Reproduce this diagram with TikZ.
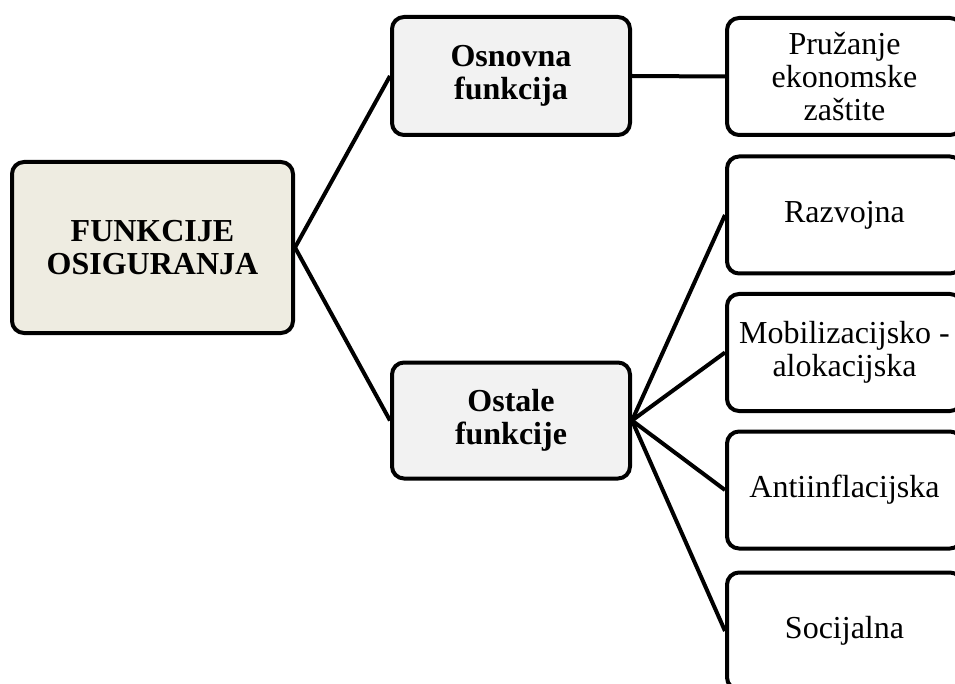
\documentclass[tikz,border=0pt]{standalone}
\usepackage{fontspec}
\setmainfont{Liberation Serif}
\begin{document}
\begin{tikzpicture}[x=1pt,y=-1pt,
  box/.style={draw=black, line width=4pt, rounded corners=12pt, align=center,
    inner sep=0pt, font=\fontsize{32}{33}\selectfont},
  rootbox/.style={box, fill=rootfill, font=\fontsize{32}{33}\selectfont\bfseries,
    minimum width=281pt, minimum height=171pt},
  midbox/.style={box, fill=midfill, font=\fontsize{32}{33}\selectfont\bfseries,
    minimum width=238pt, minimum height=118pt},
  leafbox/.style={box, fill=white, minimum width=235pt, minimum height=117pt},
  conn/.style={line width=4pt}]
\definecolor{rootfill}{HTML}{EEECE1}
\definecolor{midfill}{HTML}{F2F2F2}
\useasboundingbox (0,0) rectangle (955,684);
\fill[white] (0,0) rectangle (955,684);
\node[rootbox] (root) at (152.5,247.5) {FUNKCIJE\\OSIGURANJA};
\node[midbox] (osn) at (511,76) {Osnovna\\funkcija};
\node[midbox, minimum height=116pt] (ost) at (511,420.5) {Ostale\\funkcije};
\node[leafbox] (pru) at (844.5,76.5) {Pružanje\\ekonomske\\zaštite};
\node[leafbox] (raz) at (844.5,215) {Razvojna};
\node[leafbox] (mob) at (844.5,352.5) {Mobilizacijsko -\\alokacijska};
\node[leafbox] (ant) at (844.5,490) {Antiinflacijska};
\node[leafbox] (soc) at (844.5,631) {Socijalna};
\draw[conn] (root.east) -- (osn.west);
\draw[conn] (root.east) -- (ost.west);
\draw[conn] (osn.east) -- (pru.west);
\draw[conn] (ost.east) -- (raz.west);
\draw[conn] (ost.east) -- (mob.west);
\draw[conn] (ost.east) -- (ant.west);
\draw[conn] (ost.east) -- (soc.west);
\end{tikzpicture}
\end{document}
